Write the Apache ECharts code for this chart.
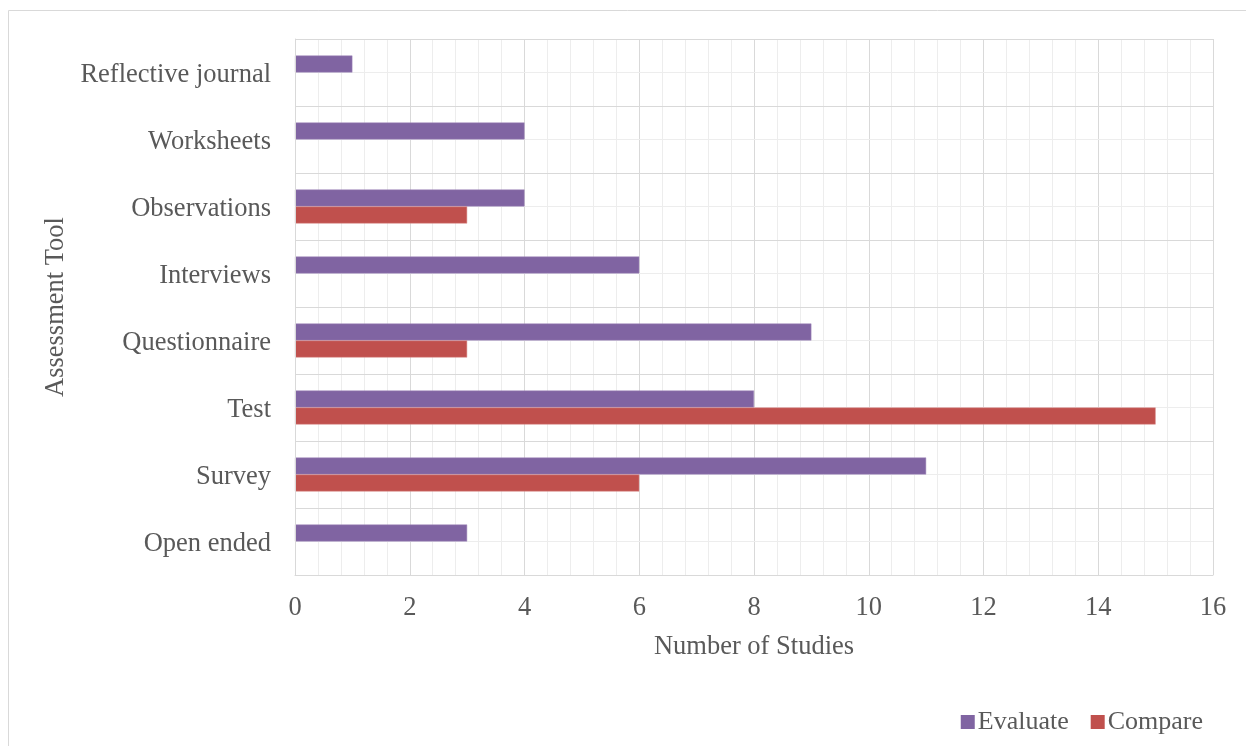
<!DOCTYPE html>
<html>
<head>
<meta charset="utf-8">
<script src="https://cdn.jsdelivr.net/npm/echarts@6/dist/echarts.min.js"></script>
<style>html,body{margin:0;padding:0;background:#fff}#c{width:1246px;height:746px}</style>
</head>
<body>
<div id="c"></div>
<script>
const categories = ['Open ended','Survey','Test','Questionnaire','Interviews','Observations','Worksheets','Reflective journal'];
const evaluateValues = [3, 11, 8, 9, 6, 4, 4, 1];
const compareValues = [null, 6, 15, 3, null, 3, null, null];
const xTicks = [0, 2, 4, 6, 8, 10, 12, 14, 16];

const FONT = '"Liberation Serif", "Times New Roman", serif';
const chart = echarts.init(document.getElementById('c'), null, {renderer: 'canvas'});
chart.setOption({
  animation: false,
  textStyle: {fontFamily: FONT},
  graphic: [{
    type: 'rect', shape: {x: 8.5, y: 10.5, width: 1260, height: 760},
    style: {fill: 'none', stroke: '#d9d9d9', lineWidth: 1}, silent: true, z: -10
  }],
  grid: {left: 295, right: 33, top: 39, bottom: 171, containLabel: false},
  legend: {
    data: ['Evaluate', 'Compare'],
    right: 38, top: 704,
    itemWidth: 14, itemHeight: 14, itemGap: 22,
    icon: 'rect',
    itemStyle: {borderWidth: 0},
    textStyle: {fontFamily: FONT, fontSize: 26, color: '#595959', padding: [0, 0, 0, -2]}
  },
  xAxis: {
    type: 'value', min: xTicks[0], max: xTicks[xTicks.length - 1], interval: 2,
    name: 'Number of Studies', nameLocation: 'middle', nameGap: 59,
    nameTextStyle: {fontFamily: FONT, fontSize: 26.5, color: '#595959'},
    axisLine: {show: true, lineStyle: {color: '#d9d9d9'}},
    axisTick: {show: false},
    axisLabel: {fontFamily: FONT, fontSize: 26.5, color: '#595959', margin: 20},
    splitLine: {show: true, lineStyle: {color: '#d9d9d9', width: 1}},
    minorTick: {show: false, splitNumber: 5},
    minorSplitLine: {show: true, lineStyle: {color: '#ededed', width: 1}}
  },
  yAxis: [{
    type: 'category', data: categories,
    name: 'Assessment Tool', nameLocation: 'middle', nameGap: 215,
    nameTextStyle: {fontFamily: FONT, fontSize: 26.5, color: '#595959'},
    axisLine: {show: true, lineStyle: {color: '#d9d9d9'}},
    axisTick: {show: false},
    axisLabel: {
      margin: 24,
      formatter: function (v) { return '{a|' + v + '}'; },
      rich: {a: {fontFamily: FONT, fontSize: 26.5, color: '#595959', padding: [5, 0, 0, 0]}}
    },
    splitLine: {show: true, lineStyle: {color: '#d9d9d9', width: 1}},
    z: 3
  }, {
    type: 'value', min: 0, max: 16, interval: 1, position: 'right',
    axisLine: {show: false}, axisTick: {show: false}, axisLabel: {show: false},
    splitLine: {show: true, lineStyle: {color: '#ededed', width: 1}},
    z: 1
  }],
  series: [{
    name: 'Evaluate', type: 'bar', data: evaluateValues,
    itemStyle: {color: '#8064a2', borderColor: '#a08bbd', borderWidth: 0.5},
    barWidth: 17, barGap: '0%'
  }, {
    name: 'Compare', type: 'bar', data: compareValues,
    itemStyle: {color: '#c0504d', borderColor: '#d88a88', borderWidth: 0.5},
    barWidth: 17, barGap: '0%'
  }]
});
</script>
</body>
</html>
